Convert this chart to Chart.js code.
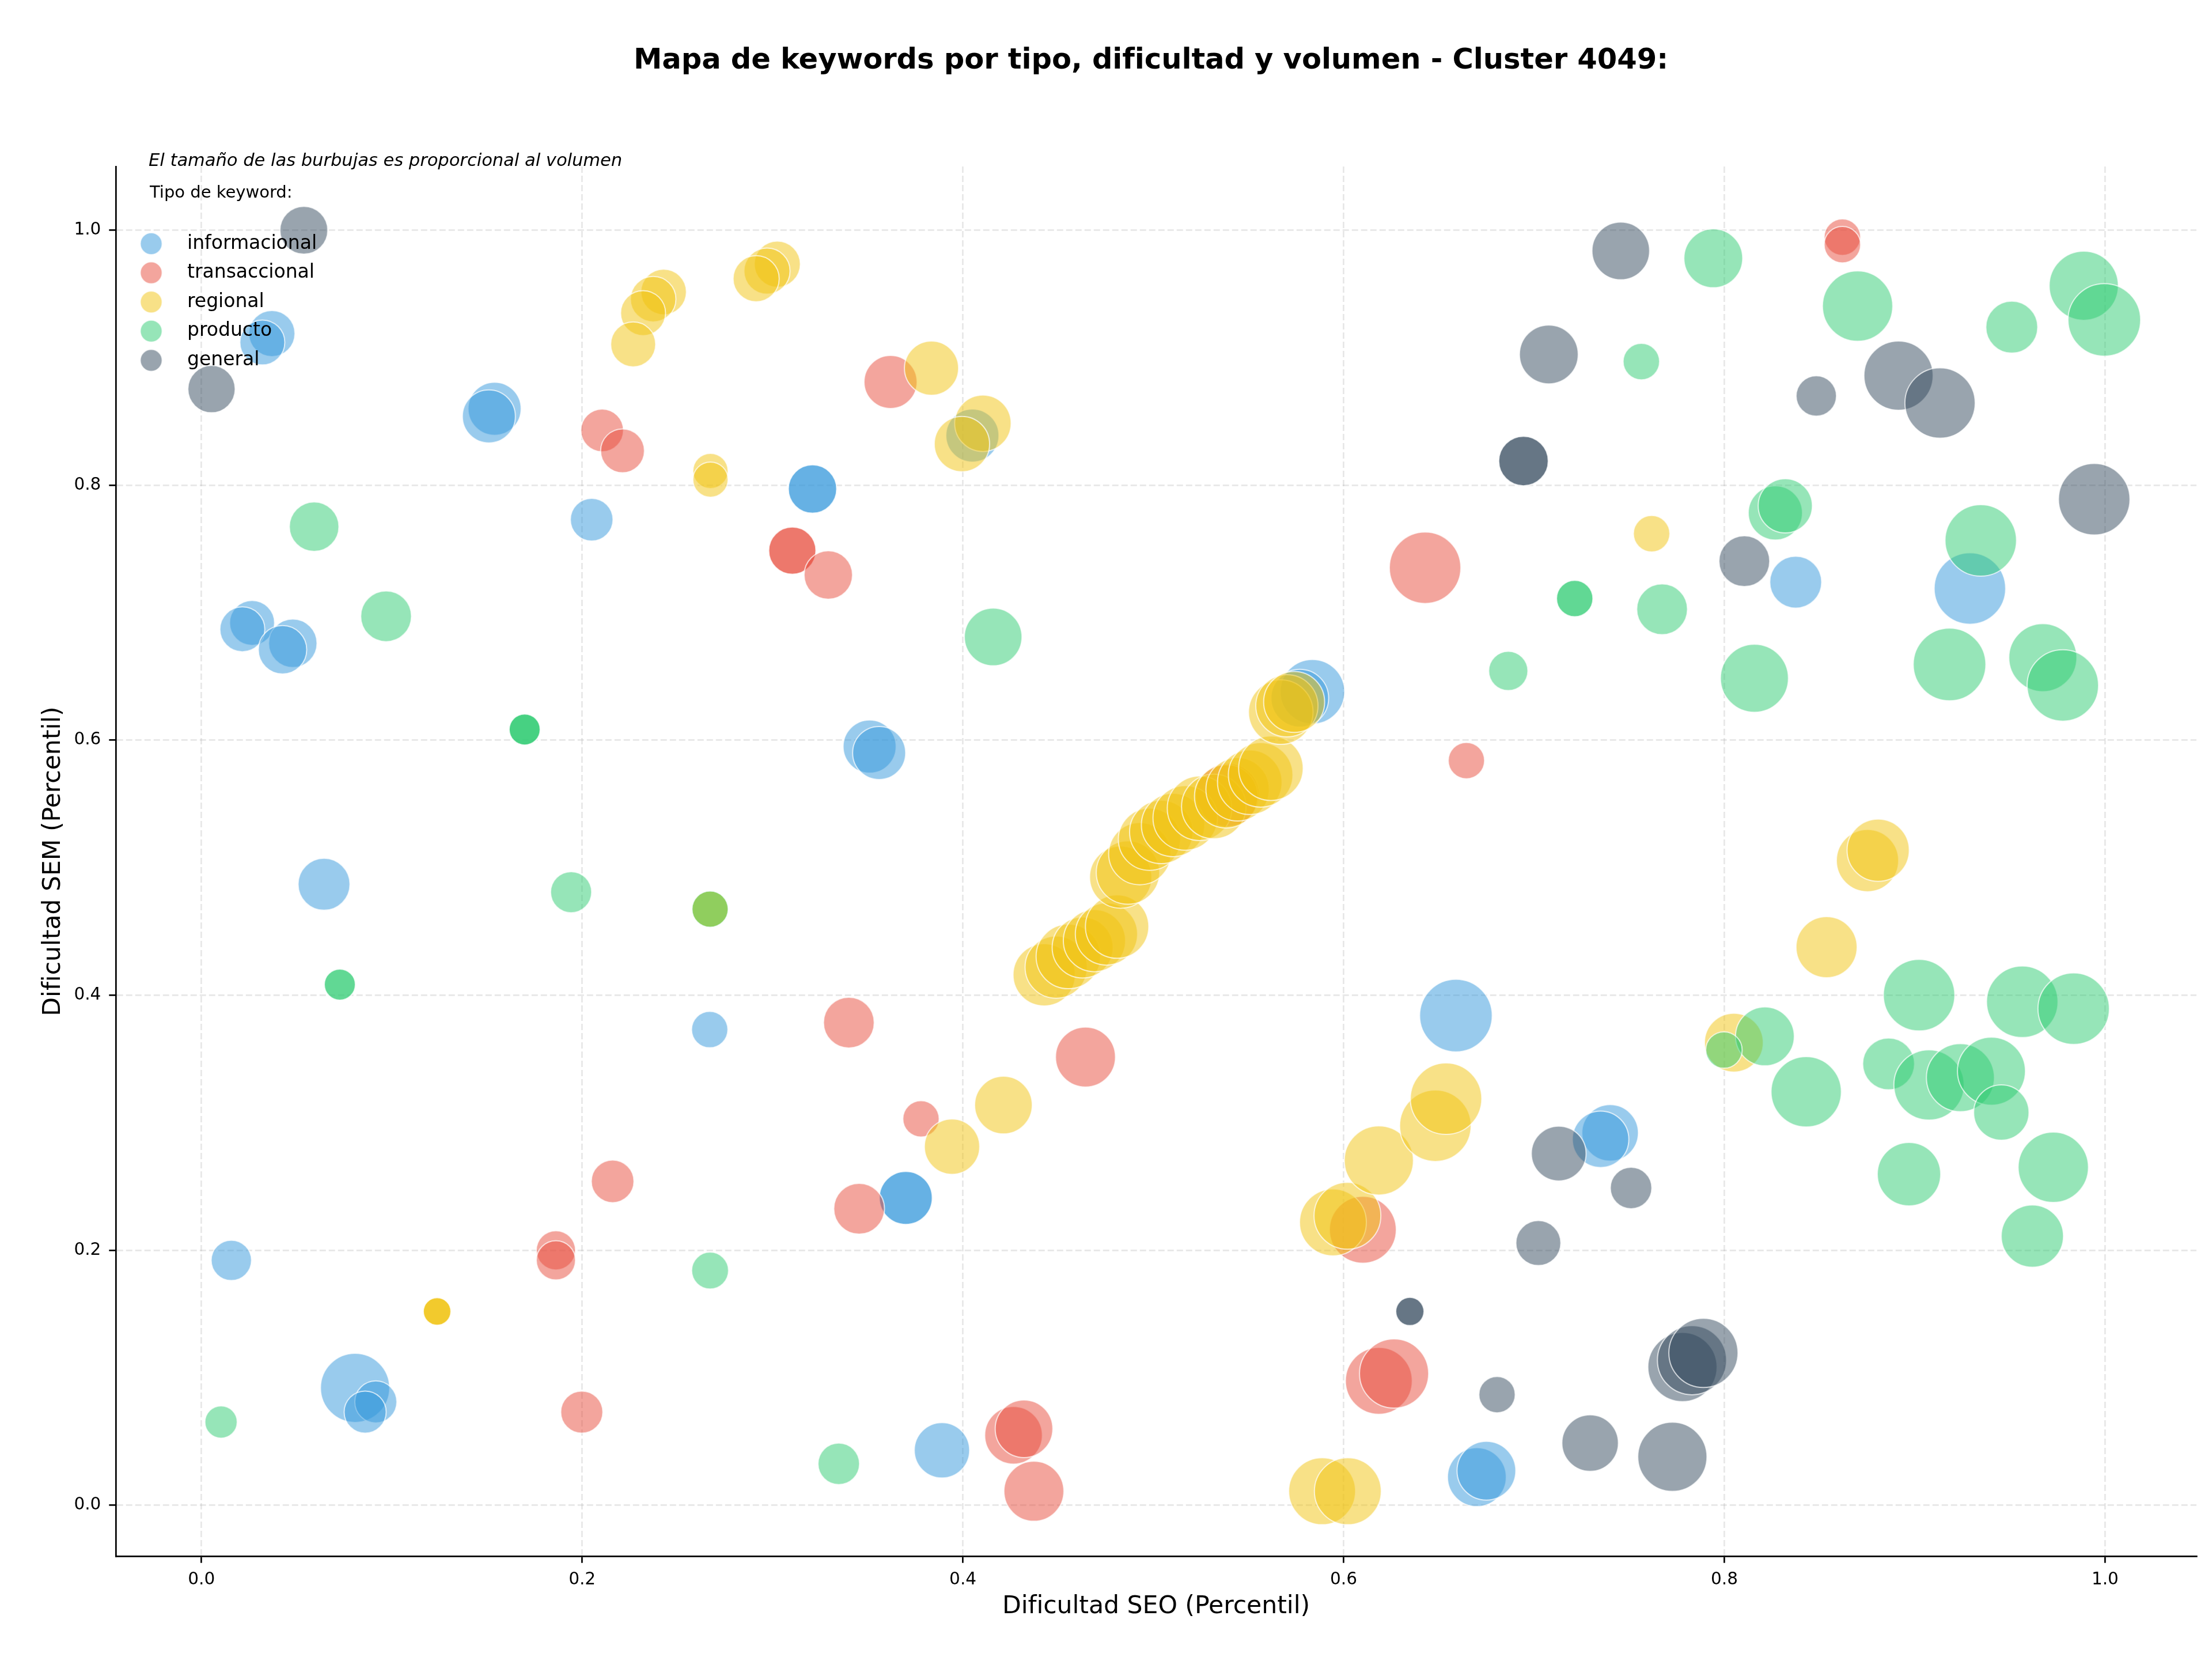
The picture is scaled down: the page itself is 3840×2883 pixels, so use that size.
<!DOCTYPE html>
<html lang="es">
<head>
<meta charset="utf-8">
<title>Mapa de keywords - Cluster 4049</title>
<script src="https://cdn.jsdelivr.net/npm/chart.js@4.4.1/dist/chart.umd.min.js"></script>
<style>
  html, body { margin: 0; padding: 0; background: #fff; }
  #wrap { width: 3840px; height: 2883px; }
</style>
</head>
<body>
<div id="wrap"><canvas id="chart" width="3840" height="2883"></canvas></div>
<script>
// ---- datos (dificultad SEO, dificultad SEM, volumen) ----
const tipos = ['informacional', 'transaccional', 'regional', 'producto', 'general'];
const colores = ['#3498db', '#e74c3c', '#f1c40f', '#2ecc71', '#34495e'];

const infoSeo = [0.037, 0.032, 0.154, 0.151, 0.205, 0.321, 0.321, 0.0266, 0.0215, 0.048, 0.0426, 0.0644,
  0.351, 0.356, 0.405, 0.5836, 0.577, 0.8375, 0.929, 0.659, 0.740, 0.735, 0.370, 0.370, 0.389,
  0.670, 0.675, 0.0157, 0.0807, 0.0916, 0.086, 0.267];
const infoSem = [0.919, 0.912, 0.860, 0.854, 0.773, 0.797, 0.797, 0.692, 0.687, 0.676, 0.671, 0.487,
  0.595, 0.590, 0.839, 0.638, 0.633, 0.724, 0.719, 0.384, 0.292, 0.287, 0.241, 0.241, 0.043,
  0.022, 0.027, 0.192, 0.092, 0.081, 0.073, 0.373];
const infoVol = [400, 380, 529, 529, 342, 441, 441, 380, 380, 441, 441, 506,
  529, 529, 529, 784, 625, 506, 961, 992, 600, 600, 529, 529, 576,
  650, 650, 306, 900, 333, 333, 248];

const transSeo = [0.862, 0.862, 0.362, 0.2105, 0.2212, 0.3104, 0.3104, 0.3293, 0.6428, 0.6645, 0.539,
  0.3401, 0.4644, 0.378, 0.3455, 0.6101, 0.6185, 0.6265, 0.4266, 0.4321, 0.4373, 0.216, 0.1862, 0.1862, 0.1998];
const transSem = [0.9946, 0.9887, 0.881, 0.843, 0.827, 0.7487, 0.7487, 0.7296, 0.7353, 0.584, 0.557,
  0.3785, 0.3515, 0.303, 0.2325, 0.216, 0.0975, 0.1032, 0.0548, 0.0599, 0.0109, 0.254, 0.1999, 0.192, 0.073];
const transVol = [250, 250, 529, 342, 361, 420, 420, 441, 961, 248, 756,
  484, 676, 248, 484, 841, 841, 900, 625, 625, 676, 342, 289, 289, 333];

const regSeo = [0.3025, 0.2971, 0.2914, 0.2428, 0.2373, 0.232, 0.2268, 0.2674, 0.2674, 0.3835, 0.4105, 0.3995, 0.7618,
  0.4427, 0.449, 0.4554, 0.4629, 0.4691, 0.4754, 0.481, 0.4829, 0.4867, 0.4929, 0.498, 0.5042, 0.5104, 0.5168,
  0.5243, 0.5318, 0.5383, 0.5443, 0.5507, 0.5564, 0.5618, 0.567, 0.5702, 0.574,
  0.5944, 0.602, 0.6185, 0.6482, 0.6538, 0.5887, 0.6022, 0.4213, 0.3943, 0.1238, 0.1238, 0.1238,
  0.805, 0.8537, 0.8752, 0.8808, 0.2672, 0.2672];
const regSem = [0.9734, 0.968, 0.962, 0.9516, 0.946, 0.935, 0.9105, 0.8112, 0.8044, 0.8918, 0.8486, 0.8323, 0.762,
  0.416, 0.422, 0.4304, 0.4374, 0.4428, 0.448, 0.4538, 0.4926, 0.4962, 0.511, 0.5223, 0.528, 0.5335, 0.539,
  0.5466, 0.548, 0.556, 0.5615, 0.567, 0.5728, 0.578, 0.622, 0.627, 0.630,
  0.2218, 0.227, 0.2704, 0.2976, 0.3188, 0.0109, 0.0109, 0.3138, 0.2812, 0.1519, 0.1519, 0.1519,
  0.3628, 0.4377, 0.5056, 0.5137, 0.4675, 0.4675];
const regVol = [400, 400, 400, 390, 390, 380, 380, 233, 233, 552, 600, 576, 250,
  729, 729, 784, 700, 729, 729, 756, 729, 756, 729, 729, 756, 756, 784,
  784, 784, 756, 756, 784, 784, 784, 784, 729, 700,
  841, 841, 900, 961, 961, 841, 841, 625, 576, 144, 144, 144,
  650, 702, 729, 729, 248, 248];

const prodSeo = [0.7942, 0.870, 0.9888, 0.9996, 0.951, 0.7564, 0.8268, 0.832, 0.7214, 0.7214, 0.7673, 0.6865,
  0.8158, 0.9183, 0.9673, 0.9778, 0.9347, 0.4159, 0.0592, 0.097, 0.1698, 0.1698, 0.1698, 0.1942, 0.2672,
  0.0727, 0.0727, 0.2672, 0.0103, 0.3348, 0.8213, 0.7998, 0.843, 0.8863, 0.9023, 0.9075, 0.924, 0.9403,
  0.9455, 0.9565, 0.9835, 0.897, 0.9728, 0.9618];
const prodSem = [0.978, 0.9405, 0.9565, 0.9297, 0.924, 0.897, 0.7783, 0.7838, 0.7111, 0.7111, 0.7027, 0.6543,
  0.6486, 0.6594, 0.6647, 0.643, 0.7567, 0.681, 0.7675, 0.6972, 0.6084, 0.6084, 0.6084, 0.4808, 0.4675,
  0.4083, 0.4083, 0.184, 0.0652, 0.0324, 0.3677, 0.357, 0.3242, 0.3461, 0.400, 0.3296, 0.3353, 0.3404,
  0.308, 0.3948, 0.3894, 0.2596, 0.265, 0.211];
const prodVol = [650, 930, 900, 992, 506, 250, 552, 552, 250, 250, 484, 289,
  870, 992, 870, 961, 961, 625, 462, 484, 182, 182, 182, 317, 248,
  182, 182, 256, 196, 324, 650, 250, 930, 506, 961, 930, 870, 870,
  576, 961, 961, 756, 930, 729];

const genSeo = [0.0538, 0.0053, 0.7456, 0.7078, 0.6945, 0.6945, 0.8483, 0.8915, 0.9133, 0.9943, 0.8105,
  0.713, 0.751, 0.7023, 0.6348, 0.6348, 0.6806, 0.7295, 0.7727, 0.778, 0.783, 0.789];
const genSem = [1.0, 0.8754, 0.9838, 0.9026, 0.819, 0.819, 0.870, 0.886, 0.8645, 0.789, 0.7404,
  0.2758, 0.2488, 0.2056, 0.1519, 0.1519, 0.0867, 0.0487, 0.0379, 0.1083, 0.1137, 0.1194];
const genVol = [430, 420, 625, 650, 462, 462, 306, 900, 930, 961, 484,
  564, 324, 380, 150, 150, 248, 600, 900, 900, 900, 900];

const ejeX = 'Dificultad SEO (Percentil)';
const ejeY = 'Dificultad SEM (Percentil)';
const titulo = 'Mapa de keywords por tipo, dificultad y volumen - Cluster 4049:';
const nota = 'El tamaño de las burbujas es proporcional al volumen';
const tituloLeyenda = 'Tipo de keyword:';

// ---- helpers ----
const FONT = '"DejaVu Sans", "Liberation Sans", sans-serif';

function alpha(hex, a) {
  const n = parseInt(hex.slice(1), 16);
  return `rgba(${(n >> 16) & 255},${(n >> 8) & 255},${n & 255},${a})`;
}

// radio proporcional a la raiz del volumen (area ~ volumen)
const radio = v => Math.sqrt(v) * 2;

function puntos(xs, ys, vols) {
  return xs.map((x, i) => ({ x: x, y: ys[i], r: radio(vols[i]) }));
}

const series = [
  puntos(infoSeo, infoSem, infoVol),
  puntos(transSeo, transSem, transVol),
  puntos(regSeo, regSem, regVol),
  puntos(prodSeo, prodSem, prodVol),
  puntos(genSeo, genSem, genVol),
];

const datasets = tipos.map((t, i) => ({
  label: t,
  data: series[i],
  backgroundColor: alpha(colores[i], 0.5),
  borderColor: 'rgba(255,255,255,0.7)',
  borderWidth: 2,
  hoverBorderWidth: 2,
  order: tipos.length - i,   // el ultimo tipo queda encima
  clip: false,
}));

// titulo, nota y leyenda (sin marco, arriba a la izquierda)
const textosPlugin = {
  id: 'textos',
  afterDraw(chart) {
    const ctx = chart.ctx;
    const area = chart.chartArea;
    ctx.save();
    ctx.fillStyle = '#000';
    ctx.textBaseline = 'middle';

    ctx.textAlign = 'center';
    ctx.font = `bold 49.5px ${FONT}`;
    ctx.fillText(titulo, (area.left + area.right) / 2 - 9, 106);

    ctx.textAlign = 'left';
    ctx.font = `italic 30.5px ${FONT}`;
    ctx.fillText(nota, 258, 280);

    ctx.font = `29px ${FONT}`;
    ctx.fillText(tituloLeyenda, 260, 335);

    ctx.font = `33px ${FONT}`;
    tipos.forEach((t, i) => {
      const y = 423 + i * 50.6;
      ctx.beginPath();
      ctx.arc(262.5, y, 19, 0, Math.PI * 2);
      ctx.fillStyle = alpha(colores[i], 0.5);
      ctx.fill();
      ctx.lineWidth = 2;
      ctx.strokeStyle = 'rgba(255,255,255,0.7)';
      ctx.stroke();
      ctx.fillStyle = '#000';
      ctx.fillText(t, 325, y);
    });
    ctx.restore();
  }
};

const gridComun = {
  color: 'rgba(176,176,176,0.3)',
  lineWidth: 2.7,
  drawTicks: true,
  tickLength: 11.7,
  tickWidth: 2.7,
  tickColor: '#000',
  tickBorderDash: [],
};

const chart = new Chart(document.getElementById('chart'), {
  type: 'bubble',
  data: { datasets },
  options: {
    responsive: false,
    devicePixelRatio: 1,
    animation: false,
    events: [],
    layout: { autoPadding: false, padding: { left: 0, right: 27, top: 289, bottom: 0 } },
    plugins: {
      legend: { display: false },
      title: { display: false },
      tooltip: { enabled: false },
    },
    scales: {
      x: {
        type: 'linear',
        position: 'bottom',
        min: -0.045,
        max: 1.048,
        afterFit: s => { s.height = 182; s.paddingLeft = 0; s.paddingRight = 0; },
        border: { display: true, color: '#000', width: 2.7, dash: [11, 5] },
        grid: gridComun,
        ticks: {
          stepSize: 0.2,
          includeBounds: false,
          color: '#000',
          padding: 12,
          maxRotation: 0,
          font: { family: FONT, size: 29.5 },
          callback: v => v.toFixed(1),
        },
        title: {
          display: true,
          text: ejeX,
          color: '#000',
          font: { family: FONT, size: 42.5 },
          padding: { top: 0, bottom: 69 },
        },
      },
      y: {
        type: 'linear',
        position: 'left',
        min: -0.04,
        max: 1.05,
        afterFit: s => { s.width = 201; s.paddingTop = 0; s.paddingBottom = 0; },
        border: { display: true, color: '#000', width: 2.7, dash: [11, 5] },
        grid: gridComun,
        ticks: {
          stepSize: 0.2,
          includeBounds: false,
          color: '#000',
          padding: 14,
          font: { family: FONT, size: 29.5 },
          callback: v => v.toFixed(1),
        },
        title: {
          display: true,
          text: ejeY,
          color: '#000',
          font: { family: FONT, size: 42.5 },
          padding: { top: 67, bottom: 0 },
        },
      },
    },
  },
  plugins: [textosPlugin],
});
</script>
</body>
</html>
